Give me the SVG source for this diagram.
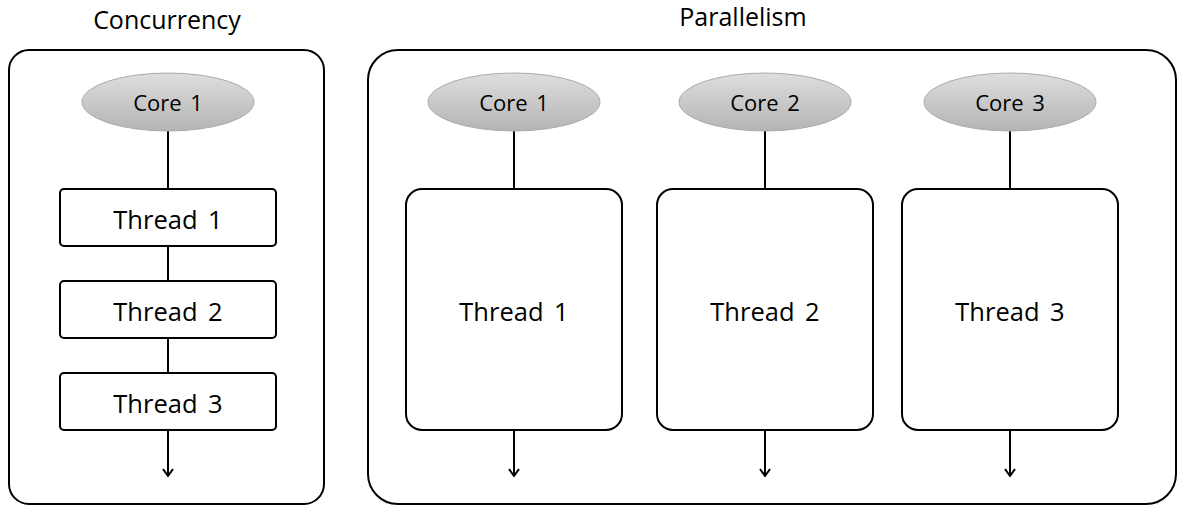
<svg xmlns="http://www.w3.org/2000/svg" width="1191" height="520" viewBox="0 0 1191 520">
<defs>
<linearGradient id="g" x1="0" y1="0" x2="0" y2="1">
<stop offset="0" stop-color="#dedede"/>
<stop offset="1" stop-color="#b4b4b4"/>
</linearGradient>
<marker id="arr" viewBox="0 0 12 12" refX="11" refY="6" markerWidth="12" markerHeight="12" markerUnits="userSpaceOnUse" orient="auto">
<path d="M4,1 L11,6 L4,11" fill="none" stroke="#000" stroke-width="2"/>
</marker>
<style>
.box{fill:#fff;stroke:#000;stroke-width:2}
.core{fill:url(#g);stroke:#aaa;stroke-width:1}
.t{font-family:"Open Sans","Noto Sans",sans-serif;fill:#000;text-anchor:middle}
.title{font-size:25px}
.ct{font-size:22px;word-spacing:3px}
.tt{font-size:25.5px;word-spacing:4px}
.ln{stroke:#000;stroke-width:2;fill:none}
</style>
</defs>
<rect width="1191" height="520" fill="#fff"/>
<g id="concurrency">
<rect class="box" x="9" y="50" width="315" height="454" rx="20"/>
<text class="t title" x="167" y="29">Concurrency</text>
</g>
<g id="parallelism">
<rect class="box" x="368" y="50" width="808" height="454" rx="30"/>
<text class="t title" x="743" y="26">Parallelism</text>
</g>
<g id="connectors">
<line class="ln" x1="168" y1="131" x2="168" y2="189"/>
<line class="ln" x1="168" y1="246" x2="168" y2="281"/>
<line class="ln" x1="168" y1="338" x2="168" y2="373"/>
<line class="ln" x1="168" y1="430" x2="168" y2="476" marker-end="url(#arr)"/>
<line class="ln" x1="514" y1="131" x2="514" y2="189"/>
<line class="ln" x1="765" y1="131" x2="765" y2="189"/>
<line class="ln" x1="1010" y1="131" x2="1010" y2="189"/>
<line class="ln" x1="514" y1="430" x2="514" y2="476" marker-end="url(#arr)"/>
<line class="ln" x1="765" y1="430" x2="765" y2="476" marker-end="url(#arr)"/>
<line class="ln" x1="1010" y1="430" x2="1010" y2="476" marker-end="url(#arr)"/>
</g>
<g id="c-core1">
<ellipse class="core" cx="168" cy="102" rx="86" ry="29"/>
<text class="t ct" x="168" y="111">Core 1</text>
</g>
<g id="c-thread1">
<rect class="box" x="60" y="189" width="216" height="57" rx="4"/>
<text class="t tt" x="168" y="229">Thread 1</text>
</g>
<g id="c-thread2">
<rect class="box" x="60" y="281" width="216" height="57" rx="4"/>
<text class="t tt" x="168" y="321">Thread 2</text>
</g>
<g id="c-thread3">
<rect class="box" x="60" y="373" width="216" height="57" rx="4"/>
<text class="t tt" x="168" y="413">Thread 3</text>
</g>
<g id="p-core1">
<ellipse class="core" cx="514" cy="102" rx="86" ry="29"/>
<text class="t ct" x="514" y="111">Core 1</text>
</g>
<g id="p-core2">
<ellipse class="core" cx="765" cy="102" rx="86" ry="29"/>
<text class="t ct" x="765" y="111">Core 2</text>
</g>
<g id="p-core3">
<ellipse class="core" cx="1010" cy="102" rx="86" ry="29"/>
<text class="t ct" x="1010" y="111">Core 3</text>
</g>
<g id="p-thread1">
<rect class="box" x="406" y="189" width="216" height="241" rx="16"/>
<text class="t tt" x="514" y="321">Thread 1</text>
</g>
<g id="p-thread2">
<rect class="box" x="657" y="189" width="216" height="241" rx="16"/>
<text class="t tt" x="765" y="321">Thread 2</text>
</g>
<g id="p-thread3">
<rect class="box" x="902" y="189" width="216" height="241" rx="16"/>
<text class="t tt" x="1010" y="321">Thread 3</text>
</g>
</svg>
